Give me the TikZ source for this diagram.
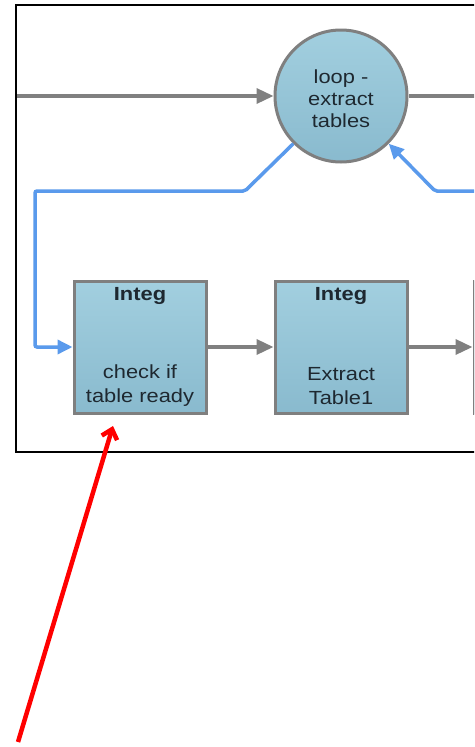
\documentclass[tikz,border=0pt]{standalone}
\usepackage{fontspec}
\setmainfont[FakeStretch=1.15]{Liberation Sans}
\usetikzlibrary{arrows.meta}
\definecolor{nodegray}{HTML}{7F7F7F}
\definecolor{linkgray}{HTML}{808080}
\definecolor{linkblue}{HTML}{5A9AEC}
\definecolor{filltop}{HTML}{A2CFDF}
\definecolor{fillbot}{HTML}{89BACE}
\definecolor{txtdark}{HTML}{1E2830}
\tikzset{
  stepbox/.style={draw=nodegray, line width=3pt, top color=filltop, bottom color=fillbot,
    minimum width=132pt, minimum height=132pt, inner sep=0pt},
  loopnode/.style={circle, draw=nodegray, line width=3pt, top color=filltop, bottom color=fillbot,
    minimum size=132pt, inner sep=0pt, font=\fontsize{19}{22}\selectfont, text=txtdark, align=center},
  hdr/.style={font=\fontsize{19}{21}\selectfont\bfseries, text=txtdark, inner sep=0pt},
  txt/.style={font=\fontsize{19}{24}\selectfont, text=txtdark, align=center, inner sep=0pt},
  graylink/.style={draw=linkgray, line width=3.5pt, -{Triangle[length=17pt,width=15pt]}},
  grayline/.style={draw=linkgray, line width=3.5pt},
  bluelink/.style={draw=linkblue, line width=3.5pt, -{Triangle[length=15pt,width=14pt]}, rounded corners=2pt},
  redlink/.style={draw=red, line width=4.5pt, -{Straight Barb[length=9pt,width=16pt]}}
}
\begin{document}
\begin{tikzpicture}[x=1pt,y=-1pt]
\useasboundingbox (0,0) rectangle (474,747);
\fill[white] (0,0) rectangle (474,747);
\clip (0,0) rectangle (474,747);
% frame
\draw[black, line width=1.5pt] (16,5) rectangle (500,452);
% nodes
\node[loopnode] (loop) at (341,96) {};
\node[txt, font=\fontsize{19}{22}\selectfont] (looptxt) at (341,99) {loop -\\extract\\tables};
\node[stepbox] (b1) at (140,347) {};
\node[stepbox] (b2) at (341,347) {};
\node[stepbox] (b3) at (540,347) {};
\node[hdr] (b1h) at (140,296) {Integ};
\node[txt] (b1t) at (140,386) {check if\\table ready};
\node[hdr] (b2h) at (341,296) {Integ};
\node[txt] (b2t) at (341,386) {Extract\\Table1};
% coordinates
\coordinate (inleft) at (17,96);
\coordinate (outright) at (490,96);
\coordinate (bl1) at (245,191);
\coordinate (bl2) at (35,191);
\coordinate (bl3) at (35,347);
\coordinate (br0) at (490,191);
\coordinate (br1) at (435,191);
\coordinate (redstart) at (18,742);
\coordinate (redend) at (113,426);
% connectors
\draw[graylink] (inleft) -- (loop.west);
\draw[grayline] (loop.east) -- (outright);
\draw[graylink] (b1.east) -- (b2.west);
\draw[graylink] (b2.east) -- (b3.west);
\draw[bluelink] (loop.225) -- (bl1) -- (bl2) -- (bl3) -- (b1.west);
\draw[bluelink] (br0) -- (br1) -- (loop.-45);
\draw[redlink] (redstart) -- (redend);
\end{tikzpicture}
\end{document}
